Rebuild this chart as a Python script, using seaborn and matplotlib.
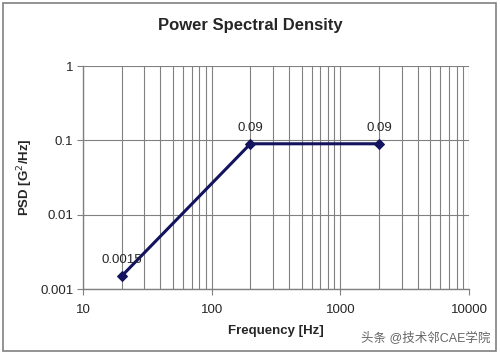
import matplotlib
matplotlib.use('Agg')
from matplotlib import pyplot as plt
from matplotlib.patches import Rectangle
from matplotlib.ticker import LogLocator, FixedLocator, FixedFormatter, NullFormatter
import seaborn as sns
import pandas as pd

freq = [20, 200, 2000]
psd = [0.0015, 0.09, 0.09]
point_labels = ['0.0015', '0.09', '0.09']
x_ticks = [10, 100, 1000, 10000]
x_tick_labels = ['10', '100', '1000', '10000']
y_ticks = [0.001, 0.01, 0.1, 1]
y_tick_labels = ['0.001', '0.01', '0.1', '1']

sns.set_style('white')
plt.rcParams['font.family'] = ['Liberation Sans', 'Noto Sans CJK SC', 'DejaVu Sans']
plt.rcParams['font.size'] = 9

fig = plt.figure(figsize=(5, 3.53), dpi=100)
ax = fig.add_axes([0.166, 0.181, 0.772, 0.632])

df = pd.DataFrame({'freq': freq, 'psd': psd})
sns.lineplot(data=df, x='freq', y='psd', ax=ax, color='#13135f', lw=2.2,
             marker='D', markersize=5, markeredgecolor='#13135f')

ax.set_xscale('log')
ax.set_yscale('log')
ax.set_xlim(10, 10000)
ax.set_ylim(0.001, 1)

ax.xaxis.set_major_locator(FixedLocator(x_ticks))
ax.xaxis.set_major_formatter(FixedFormatter(x_tick_labels))
ax.xaxis.set_minor_locator(LogLocator(base=10, subs=range(2, 10)))
ax.xaxis.set_minor_formatter(NullFormatter())
ax.yaxis.set_major_locator(FixedLocator(y_ticks))
ax.yaxis.set_major_formatter(FixedFormatter(y_tick_labels))
ax.yaxis.set_minor_locator(FixedLocator([]))

ax.grid(True, which='major', axis='both', color='#808080', lw=0.8)
ax.grid(True, which='minor', axis='x', color='#808080', lw=0.8)
ax.set_axisbelow(True)

for s in ['top', 'right']:
    ax.spines[s].set_visible(False)
for s in ['left', 'bottom']:
    ax.spines[s].set_color('#808080')
    ax.spines[s].set_linewidth(1)

ax.tick_params(axis='both', which='major', length=4, color='#808080',
               direction='out', labelsize=9.5, left=True, bottom=True)
ax.tick_params(axis='x', which='major', pad=7)
ax.tick_params(axis='y', which='major', pad=3)
ax.tick_params(axis='x', which='minor', length=0)

for x, y, t in zip(freq, psd, point_labels):
    ax.annotate(t, (x, y), xytext=(0, 7), textcoords='offset points',
                ha='center', va='bottom', fontsize=9.5)

ax.set_xlabel('Frequency [Hz]', fontsize=9.5, fontweight='bold', labelpad=6)
ax.set_ylabel('PSD [G$^2$/Hz]', fontsize=9.5, fontweight='bold')
ax.yaxis.set_label_coords(-0.125, 0.5)
fig.suptitle('Power Spectral Density', fontsize=12, fontweight='bold',
             y=0.929, va='center')

fig.text(0.98, 0.045, '头条 @技术邻CAE学院', ha='right', va='center',
         fontsize=9, color='#666666')

fig.patches.append(Rectangle((0.006, 0.006), 0.986, 0.986, transform=fig.transFigure,
                             fill=False, edgecolor='#808080', lw=1.2))

fig.savefig('out.png', dpi=100, facecolor='white')
